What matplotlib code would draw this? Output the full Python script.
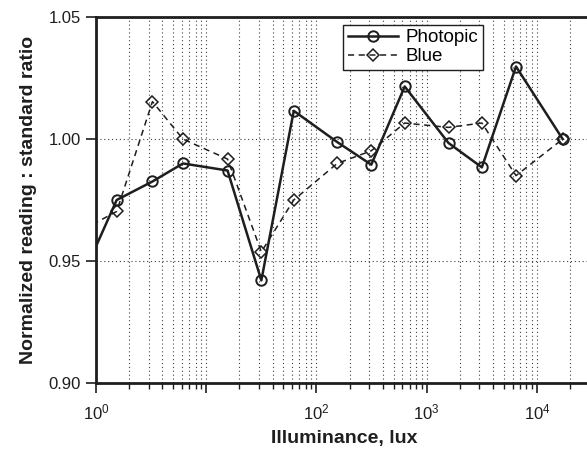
import matplotlib
matplotlib.use("Agg")
import matplotlib.pyplot as plt
from matplotlib.ticker import LogLocator, NullFormatter

plt.rcParams["font.family"] = ["Liberation Sans", "DejaVu Sans"]
plt.rcParams["mathtext.fontset"] = "custom"
plt.rcParams["mathtext.rm"] = "Liberation Sans"
plt.rcParams["mathtext.it"] = "Liberation Sans"

# illuminance (lux); first point lies left of the visible range
lux = [0.63, 1.54, 3.25, 6.15, 15.6, 31.6, 62.2, 154, 314, 631, 1575, 3162, 6450, 17100]
photopic = [0.9356, 0.975, 0.9826, 0.990, 0.9871, 0.942, 1.0116, 0.9988, 0.9895,
            1.0216, 0.9984, 0.9884, 1.0298, 1.000]
blue = [0.9608, 0.9703, 1.0154, 1.000, 0.9918, 0.9537, 0.975, 0.990, 0.9952,
        1.0066, 1.0048, 1.0066, 0.985, 1.000]

x_ticks = [1, 10, 100, 1000, 10000]
x_tick_labels = ["$10^0$", "", "$10^2$", "$10^3$", "$10^4$"]
y_ticks = [0.90, 0.95, 1.00, 1.05]
y_tick_labels = ["0.90", "0.95", "1.00", "1.05"]

ink = "#1e1e1e"

fig = plt.figure(figsize=(5.87, 4.54), dpi=100)
# right edge of the axes runs past the figure, as in the cropped original
ax = fig.add_axes([96 / 587, 71.3 / 454, 496 / 587, 365.4 / 454])

ax.plot(lux, photopic, "-", color=ink, lw=1.8, marker="o", ms=7.5,
        mfc="none", mec=ink, mew=1.4, label="Photopic")
ax.plot(lux, blue, "--", color=ink, lw=1.1, dashes=(4, 3), marker="D", ms=6,
        mfc="none", mec=ink, mew=1.1, label="Blue")

ax.set_xscale("log")
ax.set_xlim(1, 10 ** (496 / 110.25))
ax.set_ylim(0.90, 1.05)
ax.set_yticks(y_ticks)
ax.set_yticklabels(y_tick_labels)
ax.set_xticks(x_ticks)
ax.set_xticklabels(x_tick_labels)
ax.xaxis.set_minor_locator(LogLocator(base=10, subs=range(2, 10), numticks=20))
ax.xaxis.set_minor_formatter(NullFormatter())

ax.tick_params(axis="both", which="major", direction="out", length=7, width=1.2,
               labelsize=12, color=ink, labelcolor=ink)
ax.tick_params(axis="x", which="major", pad=7)
ax.tick_params(axis="y", which="major", pad=4)
ax.tick_params(axis="x", which="minor", direction="out", length=4, width=1.0, color=ink)

ax.grid(True, which="major", axis="both", linestyle=(0, (1, 2.5)), color="0.25", lw=0.8)
ax.grid(True, which="minor", axis="x", linestyle=(0, (1, 2.5)), color="0.25", lw=0.8)

for side in ["left", "bottom", "top"]:
    ax.spines[side].set_linewidth(2)
    ax.spines[side].set_color(ink)
ax.spines["right"].set_visible(False)

ax.set_xlabel("Illuminance, lux", fontsize=14, fontweight="bold", color=ink, labelpad=6)
ax.set_ylabel("Normalized reading : standard ratio", fontsize=14, fontweight="bold",
              color=ink, labelpad=8)

leg = ax.legend(loc="upper left", bbox_to_anchor=(247 / 496, 0.98), fontsize=13.5,
                frameon=True, fancybox=False, edgecolor=ink, framealpha=1,
                handlelength=2.7, handletextpad=0.4, borderpad=0.25, labelspacing=0.1,
                borderaxespad=0)
leg.get_frame().set_linewidth(1.0)

fig.savefig("out.png", dpi=100)
